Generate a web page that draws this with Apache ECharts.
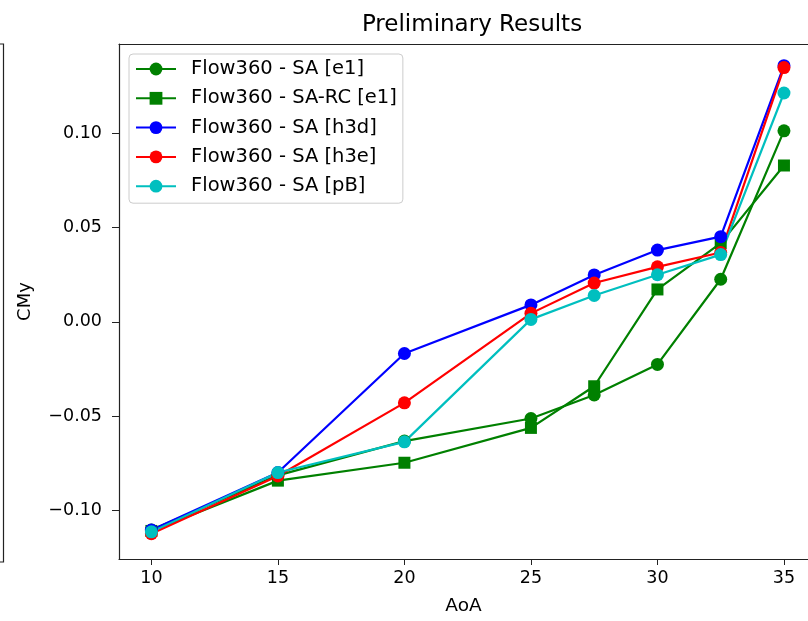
<!DOCTYPE html>
<html>
<head>
<meta charset="utf-8">
<script src="https://cdn.jsdelivr.net/npm/echarts@6/dist/echarts.min.js"></script>
<style>html,body{margin:0;padding:0;background:#fff;}#c{width:808px;height:621px;}</style>
</head>
<body>
<div id="c"></div>
<script>
const aoa = [10, 15, 20, 25, 27.5, 30, 32.5, 35];
const saE1 = [-0.1105, -0.0815, -0.0633, -0.0513, -0.0388, -0.0226, 0.0226, 0.1014];
const sarcE1 = [-0.1110, -0.0843, -0.0748, -0.0563, -0.0342, 0.0172, 0.0418, 0.0830];
const saH3d = [-0.1105, -0.0800, -0.0168, 0.0090, 0.0249, 0.0381, 0.0452, 0.1360];
const saH3e = [-0.1125, -0.0818, -0.0430, 0.0045, 0.0206, 0.0292, 0.0368, 0.1350];
const saPB = [-0.1115, -0.0800, -0.0637, 0.0013, 0.0140, 0.0250, 0.0357, 0.1215];
const xTicks = [10, 15, 20, 25, 30, 35];
const yTicks = [-0.10, -0.05, 0.00, 0.05, 0.10];
const seriesNames = ['Flow360 - SA [e1]', 'Flow360 - SA-RC [e1]', 'Flow360 - SA [h3d]', 'Flow360 - SA [h3e]', 'Flow360 - SA [pB]'];

const FONT = 'DejaVu Sans';
const X_MIN = 8.72, X_MAX = 35.95;
function pairs(ys) { return aoa.map((x, i) => [x, ys[i]]); }
function mk(name, ys, color, symbol) {
  return {
    name: name, type: 'line', data: pairs(ys), symbol: symbol, symbolSize: symbol === 'rect' ? 12 : 13,
    showSymbol: true, animation: false,
    lineStyle: { color: color, width: 2.2 }, itemStyle: { color: color },
    emphasis: { disabled: true }
  };
}
const chart = echarts.init(document.getElementById('c'), null, { renderer: 'canvas' });
chart.setOption({
  animation: false,
  backgroundColor: '#fff',
  title: {
    text: 'Preliminary Results', left: 467, top: 9, textAlign: 'center',
    textStyle: { fontFamily: FONT, fontSize: 23, fontWeight: 'normal', color: '#000' }
  },
  grid: { left: 119, top: 44, width: 689, height: 518, show: false },
  legend: {
    orient: 'vertical', left: 129, top: 54, padding: [5, 6, 7, 6],
    itemWidth: 40, itemHeight: 16, itemGap: 9.3,
    backgroundColor: 'rgba(255,255,255,0.8)', borderColor: '#ccc', borderWidth: 1, borderRadius: 4,
    textStyle: { fontFamily: FONT, fontSize: 19.5, lineHeight: 20, color: '#000', padding: [0, 0, 0, 10] },
    data: seriesNames
  },
  xAxis: [{
    type: 'value', min: X_MIN, max: X_MAX,
    name: 'AoA', nameLocation: 'middle', nameGap: 38,
    nameTextStyle: { fontFamily: FONT, fontSize: 18.5, color: '#000' },
    axisLine: { show: true, onZero: false, lineStyle: { color: '#222', width: 1.2 } },
    axisTick: { show: true, inside: false, length: 6, lineStyle: { color: '#222' }, customValues: xTicks },
    axisLabel: { fontFamily: FONT, fontSize: 17.5, color: '#000', margin: 10, customValues: xTicks },
    splitLine: { show: false }
  }, {
    type: 'value', position: 'top', min: X_MIN, max: X_MAX,
    axisLine: { show: true, onZero: false, lineStyle: { color: '#222', width: 1.2 } },
    axisTick: { show: false }, axisLabel: { show: false }, splitLine: { show: false }
  }],
  yAxis: {
    type: 'value', min: -0.1259, max: 0.1475,
    name: 'CMy', nameLocation: 'middle', nameGap: 85, nameRotate: 90,
    nameTextStyle: { fontFamily: FONT, fontSize: 18, color: '#000' },
    axisLine: { show: true, onZero: false, lineStyle: { color: '#222', width: 1.2 } },
    axisTick: { show: true, inside: false, length: 7, lineStyle: { color: '#222' }, customValues: yTicks },
    axisLabel: {
      fontFamily: FONT, fontSize: 17.5, color: '#000', margin: 17, customValues: yTicks,
      formatter: v => { const s = Math.abs(v).toFixed(2); return v < -1e-9 ? '\u2212' + s : s; }
    },
    splitLine: { show: false }
  },
  graphic: [{
    type: 'rect', shape: { x: -10, y: 44, width: 13.5, height: 518 },
    style: { fill: 'none', stroke: '#222', lineWidth: 1.2 }, silent: true
  }],
  series: [
    mk(seriesNames[0], saE1, '#008000', 'circle'),
    mk(seriesNames[1], sarcE1, '#008000', 'rect'),
    mk(seriesNames[2], saH3d, '#0000ff', 'circle'),
    mk(seriesNames[3], saH3e, '#ff0000', 'circle'),
    mk(seriesNames[4], saPB, '#00bfbf', 'circle')
  ]
});
</script>
</body>
</html>
